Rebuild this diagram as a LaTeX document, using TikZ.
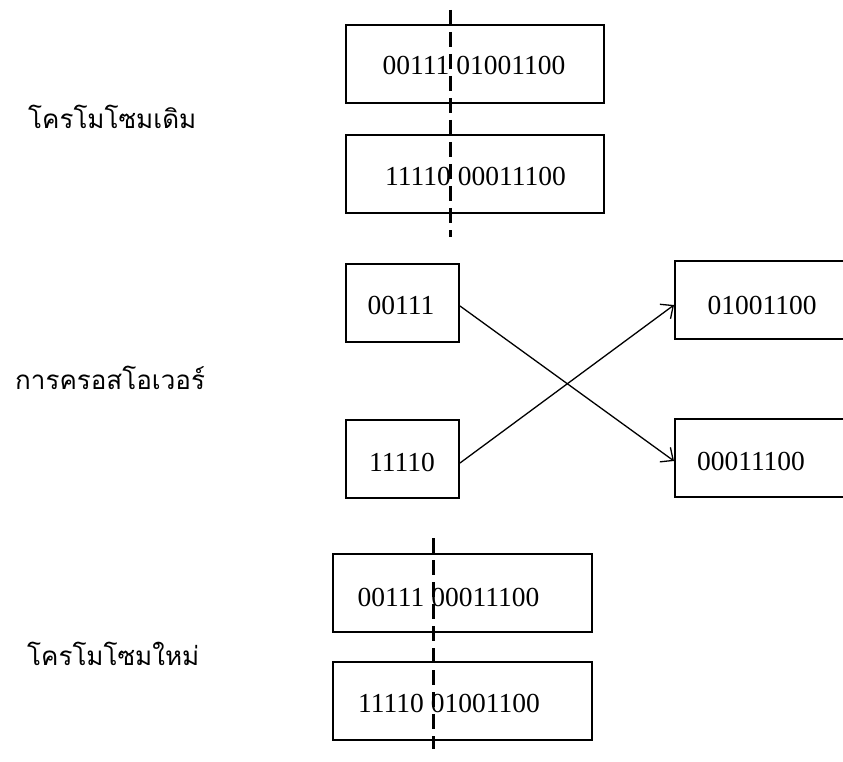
\documentclass[tikz,border=0pt]{standalone}
\usepackage{fontspec}
\setmainfont{Liberation Serif}
\newfontfamily\thaifont[Script=Thai]{Loma}
\usetikzlibrary{arrows.meta}
\tikzset{
  box/.style={draw, line width=2pt, minimum width=#1, inner sep=0pt},
  boxh/.style={minimum height=78pt},
  bits/.style={font=\fontsize{27.5}{30}\selectfont, inner sep=0pt},
  thai/.style={font=\thaifont\fontsize{26}{30}\selectfont, inner sep=0pt, anchor=base west},
  cut/.style={line width=3.6pt, dash pattern=on 15pt off 7pt},
  xarrow/.style={line width=1.3pt, -{Straight Barb[length=10pt,width=18pt,line width=1.3pt]}}
}
\begin{document}
\begin{tikzpicture}[x=1pt,y=-1pt]
\useasboundingbox (0,0) rectangle (843,762);
\clip (0,0) rectangle (843,762);
\fill[white] (0,0) rectangle (843,762);

% top: original chromosomes
\node[box=258pt, boxh] (p1) at (475,64) {};
\node[box=258pt, boxh] (p2) at (475,174.5) {};
\node[bits] (tp1) at (474,65) {00111 01001100};
\node[bits] (tp2) at (475.5,176) {11110 00011100};
\coordinate (c1a) at (450.5,10);
\coordinate (c1b) at (450.5,237);
\draw[cut] (c1a) -- (c1b);

% middle: crossover
\node[box=113pt, boxh] (l1) at (402.5,302.5) {};
\node[box=113pt, boxh] (l2) at (402.5,458.5) {};
\node[box=175pt, boxh] (r1) at (762.5,300) {};
\node[box=175pt, boxh] (r2) at (762.5,457.5) {};
\node[bits] (tl1) at (401,305) {00111};
\node[bits] (tl2) at (402,462) {11110};
\node[bits] (tr1) at (762,305) {01001100};
\node[bits] (tr2) at (751,461) {00011100};
\draw[xarrow] ([yshift=-3.5pt]l1.east) -- ([yshift=-3.5pt]r2.west);
\draw[xarrow] ([yshift=-4.5pt]l2.east) -- ([yshift=-5pt]r1.west);

% bottom: new chromosomes
\node[box=259pt, boxh] (n1) at (462.5,593) {};
\node[box=259pt, boxh] (n2) at (462.5,701) {};
\node[bits] (tn1) at (448.5,597) {00111 00011100};
\node[bits] (tn2) at (449,703) {11110 01001100};
\coordinate (c2a) at (433.5,538);
\coordinate (c2b) at (433.5,749);
\draw[cut] (c2a) -- (c2b);

% labels
\node[thai] (lab1) at (28,129) {โครโมโซมเดิม};
\node[thai] (lab2) at (15,389) {การครอสโอเวอร์};
\node[thai] (lab3) at (27,665) {โครโมโซมใหม่};
\end{tikzpicture}
\end{document}
